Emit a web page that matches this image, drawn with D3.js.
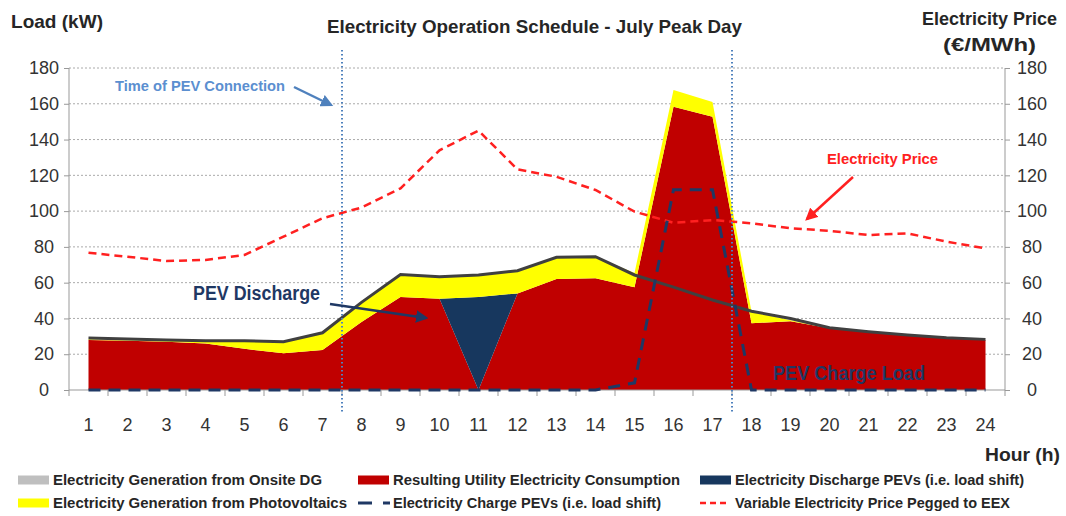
<!DOCTYPE html>
<html>
<head>
<meta charset="utf-8">
<script src="https://cdn.jsdelivr.net/npm/d3@7"></script>
<style>
  body { margin: 0; background: #fff; }
  svg { font-family: "Liberation Sans", Arial, sans-serif; }
  .axis text { font-size: 18px; fill: #333; }
  .axis path, .axis line { stroke: #999; }
</style>
</head>
<body>
<svg id="chart" width="1066" height="516"></svg>
<script>
const hours = d3.range(1, 25)
// resulting utility consumption (kW)
const utility = [28, 27.5, 27, 26, 23, 20.5, 22.4, 38, 52, 51, 0, 54, 62, 62.4, 57.4, 158.4, 152.8, 37.3, 38.5, 34.5, 32.5, 30.5, 29, 28]
// PEV discharge (kW)
const discharge = [0, 0, 0, 0, 0, 0, 0, 0, 0, 0, 52, 0, 0, 0, 0, 0, 0, 0, 0, 0, 0, 0, 0, 0]
// photovoltaics (kW)
const pv = [0.3, 0.3, 0.5, 1.5, 4.5, 6.5, 9.6, 11, 12.5, 12.3, 12.3, 12.7, 12.2, 12.1, 8, 9.3, 8.2, 6.5, 0.5, 0, 0, 0, 0, 0]
// onsite DG / original load line (kW)
const onsite = [29, 28.5, 28, 27.5, 27.5, 27, 32, 49, 64.5, 63.3, 64.3, 66.7, 74.2, 74.5, 64.3, 57.5, 50.3, 44, 40, 34.8, 32.6, 30.7, 29.2, 28.3]
// PEV charging (kW)
const charge = [0, 0, 0, 0, 0, 0, 0, 0, 0, 0, 0, 0, 0, 0, 4, 112, 112, 0, 0, 0, 0, 0, 0, 0]
// electricity price (EUR/MWh)
const price = [76.7, 74.5, 72.1, 72.7, 75.5, 85.7, 96, 102, 112.7, 134, 145, 123.3, 119.2, 111.8, 99.7, 93.5, 95, 93.2, 90.4, 89, 86.6, 87.6, 82.9, 79.2]
const yTicks = d3.range(0, 181, 20)

const svg = d3.select('#chart')
const mLeft = 69, mRight = 1005, mTop = 68, mBottom = 390

const x = d3.scalePoint().domain(hours).range([mLeft, mRight]).padding(0.5)
const y = d3.scaleLinear().domain([0, 180]).range([mBottom, mTop])
const yP = d3.scaleLinear().domain([0, 180]).range([mBottom, mTop])
const step = x.step()

// grid
svg.append('g').selectAll('line').data(yTicks.filter(d => d > 0)).join('line')
  .attr('x1', mLeft).attr('x2', mRight)
  .attr('y1', d => y(d)).attr('y2', d => y(d))
  .attr('stroke', '#aaa').attr('stroke-dasharray', '2,2').attr('stroke-width', 1)

// stacked areas
const rows = hours.map((h, i) => ({hour: h, utility: utility[i], discharge: discharge[i], pv: pv[i]}))
const stack = d3.stack().keys(['utility', 'discharge', 'pv'])(rows)
const colors = {utility: '#c00000', discharge: '#17375e', pv: '#ffff00'}
const area = d3.area()
  .x(d => x(d.data.hour))
  .y0(d => y(d[0]))
  .y1(d => y(d[1]))
svg.append('g').selectAll('path').data(stack).join('path')
  .attr('d', area)
  .attr('fill', d => colors[d.key])

// axes
const gx = svg.append('g').attr('class', 'axis')
gx.append('line').attr('x1', mLeft).attr('x2', mRight).attr('y1', mBottom).attr('y2', mBottom)
  .attr('stroke', '#999')
gx.selectAll('.tk').data(d3.range(0, 25)).join('line')
  .attr('x1', d => mLeft + d * step).attr('x2', d => mLeft + d * step)
  .attr('y1', mBottom).attr('y2', mBottom + 6).attr('stroke', '#999')
gx.selectAll('text').data(hours).join('text')
  .attr('x', d => x(d)).attr('y', 431)
  .attr('text-anchor', 'middle')
  .text(d => d)

svg.append('g').attr('class', 'axis')
  .attr('transform', `translate(${mLeft},0)`)
  .call(d3.axisLeft(y).tickValues(yTicks).tickSize(5))
  .call(g => g.select('.domain').attr('d', `M0,${mTop}V${mBottom}`))
  .call(g => g.selectAll('text').attr('x', -25).attr('text-anchor', 'middle'))

svg.append('g').attr('class', 'axis')
  .attr('transform', `translate(${mRight},0)`)
  .call(d3.axisRight(yP).tickValues(yTicks).tickSize(5))
  .call(g => g.select('.domain').attr('d', `M0,${mTop}V${mBottom}`))
  .call(g => g.selectAll('text').attr('x', 27).attr('text-anchor', 'middle'))

// lines
const line = (ys, scale) => d3.line().x((d, i) => x(hours[i])).y(d => scale(d))(ys)

svg.append('path').attr('d', line(price, yP))
  .attr('fill', 'none').attr('stroke', '#ff2020').attr('stroke-width', 2.5)
  .attr('stroke-dasharray', '8,5')

svg.append('path').attr('d', line(onsite, y))
  .attr('fill', 'none').attr('stroke', '#404040').attr('stroke-width', 3)

svg.append('path').attr('d', line(charge, y))
  .attr('fill', 'none').attr('stroke', '#1f3864').attr('stroke-width', 3)
  .attr('stroke-dasharray', '12,8')

// connection markers
svg.append('g').selectAll('line').data([7, 17]).join('line')
  .attr('x1', d => mLeft + d * step).attr('x2', d => mLeft + d * step)
  .attr('y1', 50).attr('y2', 414)
  .attr('stroke', '#4f81bd').attr('stroke-width', 2).attr('stroke-dasharray', '1.5,2.5')

// arrows
const defs = svg.append('defs')
const marker = (id, c) => defs.append('marker').attr('id', id)
  .attr('viewBox', '0 0 10 10').attr('refX', 8).attr('refY', 5)
  .attr('markerWidth', 5).attr('markerHeight', 5).attr('orient', 'auto')
  .append('path').attr('d', 'M0,0L10,5L0,10z').attr('fill', c)
marker('ab', '#4f81bd'); marker('an', '#1f3864'); marker('ar', '#ff2020')
const arrow = (x1, y1, x2, y2, c, id) => svg.append('line')
  .attr('x1', x1).attr('y1', y1).attr('x2', x2).attr('y2', y2)
  .attr('stroke', c).attr('stroke-width', 2.5).attr('marker-end', `url(#${id})`)
arrow(294, 87, 331, 105, '#4f81bd', 'ab')
arrow(330, 304, 426, 318, '#1f3864', 'an')
arrow(853, 177, 807, 219, '#ff2020', 'ar')

// texts squeezed to the widths of the reference (narrow font there)
const label = (t, px, py, size, c, width, anchor) => svg.append('text')
  .attr('x', px).attr('y', py).attr('font-size', size).attr('font-weight', 'bold')
  .attr('fill', c).attr('text-anchor', anchor || 'start')
  .attr('textLength', width).attr('lengthAdjust', 'spacingAndGlyphs').text(t)
label('Time of PEV Connection', 115, 91, 15, '#5b8fd0', 170)
label('PEV Discharge', 193, 300, 20, '#1f3864', 127)
label('Electricity Price', 827, 164, 15, '#ff2020', 111)
label('PEV Charge Load', 773, 380, 20, '#1f3864', 152)

label('Load (kW)', 11, 28, 19, '#262626', 92)
label('Electricity Operation Schedule - July Peak Day', 327, 33, 19, '#262626', 415)
label('Electricity Price', 922, 25, 18, '#262626', 135)
label('(€/MWh)', 943, 51, 18, '#262626', 93)
label('Hour (h)', 985, 461, 18, '#262626', 75)

// legend
const legend = [
  {t: 'Electricity Generation from Onsite DG', kind: 'rect', c: '#bfbfbf', col: 0, row: 0, w: 269},
  {t: 'Resulting Utility Electricity Consumption', kind: 'rect', c: '#c00000', col: 1, row: 0, w: 287},
  {t: 'Electricity Discharge PEVs (i.e. load shift)', kind: 'rect', c: '#17375e', col: 2, row: 0, w: 289},
  {t: 'Electricity Generation from Photovoltaics', kind: 'rect', c: '#ffff00', col: 0, row: 1, w: 294},
  {t: 'Electricity Charge PEVs (i.e. load shift)', kind: 'dash', c: '#1f3864', col: 1, row: 1, w: 268},
  {t: 'Variable Electricity Price Pegged to EEX', kind: 'rdash', c: '#ff2020', col: 2, row: 1, w: 275}
]
const colX = [18, 358, 700]
const lg = svg.append('g').selectAll('g').data(legend).join('g')
  .attr('transform', d => `translate(${colX[d.col]},${480 + d.row * 23})`)
lg.filter(d => d.kind === 'rect').append('rect')
  .attr('x', 0).attr('y', -4.5).attr('width', 31).attr('height', 9).attr('fill', d => d.c)
lg.filter(d => d.kind === 'dash').append('line')
  .attr('x1', 0).attr('x2', 32).attr('y1', 0).attr('y2', 0)
  .attr('stroke', d => d.c).attr('stroke-width', 3).attr('stroke-dasharray', '14,11')
lg.filter(d => d.kind === 'rdash').append('line')
  .attr('x1', 0).attr('x2', 28).attr('y1', 0).attr('y2', 0)
  .attr('stroke', d => d.c).attr('stroke-width', 2.5).attr('stroke-dasharray', '6,4')
lg.append('text').attr('x', 35).attr('y', 5)
  .attr('font-size', 14).attr('font-weight', 'bold').attr('fill', '#262626')
  .attr('textLength', d => d.w).attr('lengthAdjust', 'spacingAndGlyphs')
  .text(d => d.t)
</script>
</body>
</html>
